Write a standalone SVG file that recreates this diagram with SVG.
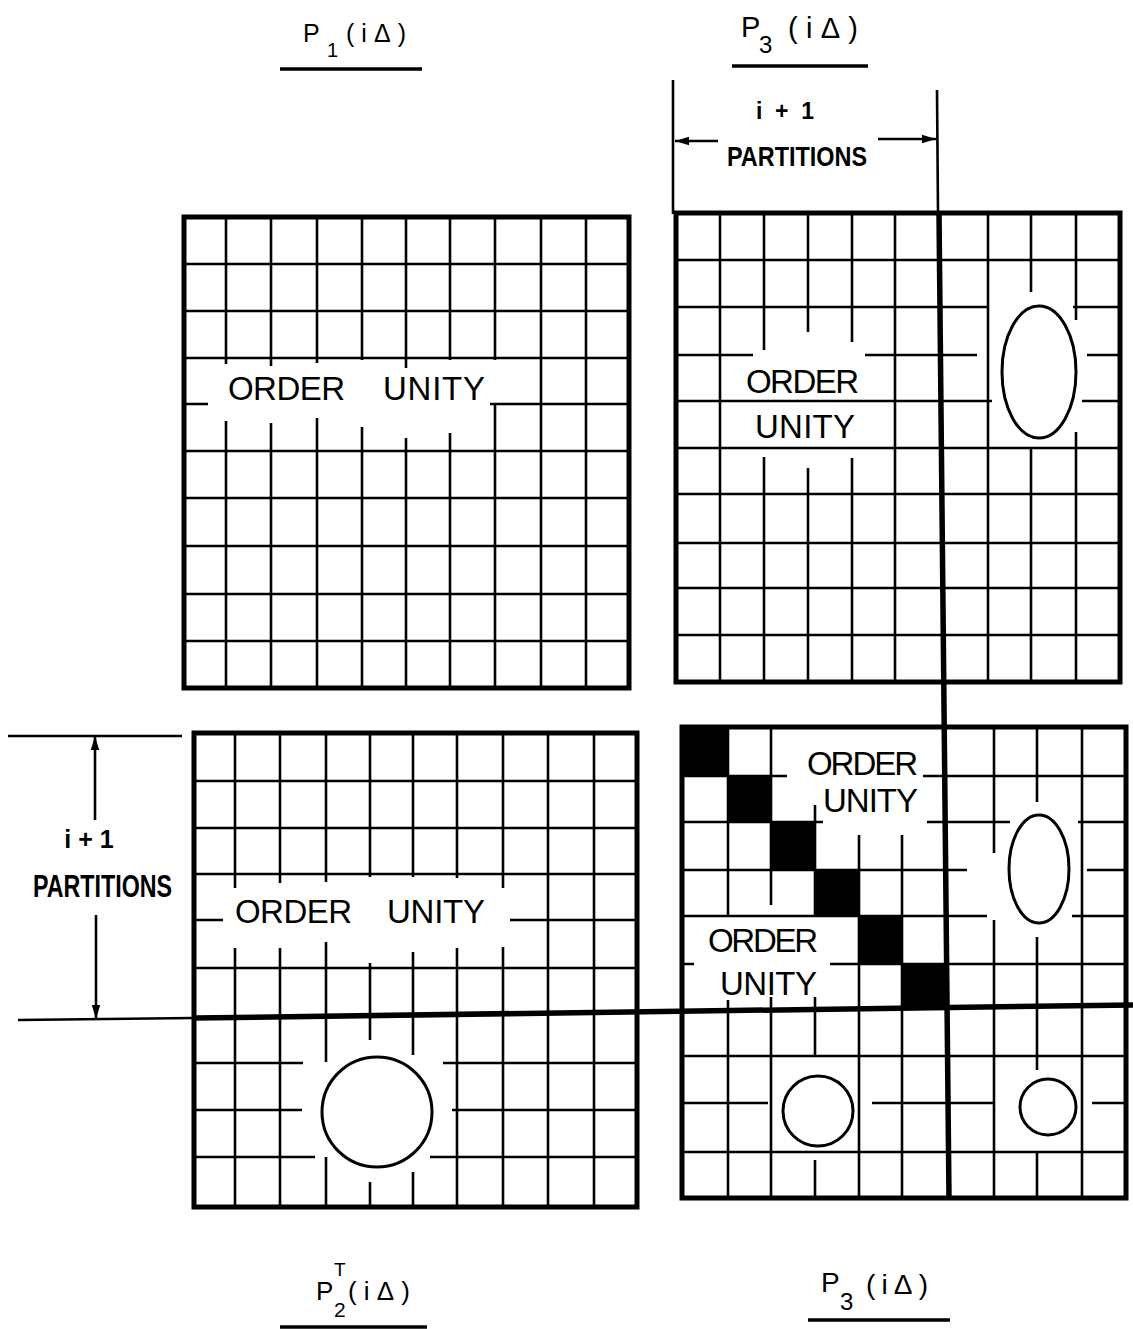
<svg xmlns="http://www.w3.org/2000/svg" width="1133" height="1329" viewBox="0 0 1133 1329">
<defs>
<style>
.border{fill:none;stroke:#000;stroke-width:5}
.grid{fill:none;stroke:#000;stroke-width:2.6}
.part{fill:none;stroke:#000;stroke-width:5.5}
.dim{fill:none;stroke:#000;stroke-width:2.6}
.shape{fill:none;stroke:#000;stroke-width:3}
.blk{fill:#000}
.lbl{font-family:"Liberation Sans",Arial,sans-serif;font-size:33px;fill:#000}
.dimtxt{font-family:"Liberation Sans",Arial,sans-serif;font-weight:bold;fill:#000}
.ttl{font-family:"Liberation Sans",Arial,sans-serif;fill:#000}
.uline{stroke:#000;stroke-width:3.5}
</style>
<marker id="arr" markerUnits="userSpaceOnUse" markerWidth="16" markerHeight="12" refX="14" refY="5" orient="auto">
<path d="M0,0.8 L14,5 L0,9.2 Z" fill="#000"/>
</marker>
</defs>
<rect x="0" y="0" width="1133" height="1329" fill="#fff"/>

<g id="matrix-p1">
<path class="grid" d="M184 264H629 M184 311H629 M184 358H629 M184 404H208 M490 404H629 M184 451H629 M184 498H629 M184 546H629 M184 594H629 M184 641H629
M226 217V364 M226 421V688 M271 217V366 M271 423V688 M317 217V363 M317 418V688 M362 217V360 M362 427V688 M406 217V368 M406 438V688 M450 217V360 M450 433V688 M495 217V360 M495 405V688 M541 217V688 M586 217V688"/>
<rect class="border" x="184" y="217" width="445" height="471"/>
<text class="lbl"><tspan x="228" y="400" textLength="117">ORDER</tspan><tspan x="383" y="400" textLength="102">UNITY</tspan></text>
</g>

<g id="matrix-p3-top">
<path class="grid" d="M676 260H1120 M676 307H988 M1073 307H1120 M676 355H753 M865 355H977 M1087 355H1120 M676 401H992 M1082 401H1120 M676 448H1120 M676 494H1120 M676 543H1120 M676 588H1120 M676 635H1120
M720 213V682 M764 213V350 M764 457V682 M808 213V332 M808 468V682 M852 213V342 M852 458V682 M895 213V682 M988 213V682 M1031 213V292 M1031 448V682 M1076 213V320 M1076 432V682"/>
<rect class="border" x="676" y="213" width="444" height="469"/>
<ellipse class="shape" cx="1039" cy="372" rx="37" ry="66"/>
<text class="lbl"><tspan x="746" y="393" textLength="113">ORDER</tspan><tspan x="755" y="438" textLength="100">UNITY</tspan></text>
</g>

<g id="matrix-p2t">
<path class="grid" d="M194 781H637 M194 828H637 M194 874H637 M194 920H223 M510 920H637 M194 968H637 M194 1063H303 M443 1063H637 M194 1110H302 M452 1110H637 M194 1157H315 M430 1157H637
M235 733V888 M235 948V1207 M280 733V883 M280 948V1207 M326 733V882 M326 942V1062 M326 1157V1207 M370 733V877 M370 963V1040 M370 1182V1207 M413 733V877 M413 952V1055 M413 1172V1207 M457 733V878 M457 948V1207 M503 733V888 M503 947V1207 M548 733V1207 M594 733V1207"/>
<rect class="border" x="194" y="733" width="443" height="474"/>
<circle class="shape" cx="377" cy="1112" r="55"/>
<text class="lbl"><tspan x="235" y="923" textLength="117">ORDER</tspan><tspan x="387" y="923" textLength="98">UNITY</tspan></text>
</g>

<g id="matrix-p3-bottom">
<rect class="blk" x="682" y="727" width="46" height="49"/>
<rect class="blk" x="728" y="776" width="43" height="46"/>
<rect class="blk" x="771" y="822" width="44" height="48"/>
<rect class="blk" x="815" y="870" width="44" height="46"/>
<rect class="blk" x="859" y="916" width="43" height="48"/>
<rect class="blk" x="902" y="964" width="45" height="45"/>
<path class="grid" d="M682 776H787 M923 776H1126 M682 822H823 M927 822H1010 M1078 822H1126 M682 870H967 M1087 870H1126 M682 916H987 M1072 916H1126 M682 964H694 M830 964H1126 M682 1056H1126 M682 1103H768 M872 1103H995 M1092 1103H1126 M682 1152H1126
M728 727V917 M728 1000V1198 M771 727V905 M771 997V1198 M815 805V917 M815 997V1056 M815 1160V1198 M859 835V1198 M902 835V1198 M994 727V853 M994 920V1198 M1037 727V802 M1037 937V1070 M1037 1152V1198 M1082 727V1198"/>
<rect class="border" x="682" y="727" width="444" height="471"/>
<ellipse class="shape" cx="1039" cy="869" rx="30" ry="54"/>
<circle class="shape" cx="818" cy="1111" r="35"/>
<circle class="shape" cx="1048" cy="1107" r="28"/>
<text class="lbl" font-size="32"><tspan x="807" y="775" textLength="111">ORDER</tspan><tspan x="823" y="812" textLength="95">UNITY</tspan></text>
<text class="lbl" font-size="32"><tspan x="708" y="952" textLength="110">ORDER</tspan><tspan x="720" y="995" textLength="97">UNITY</tspan></text>
</g>

<g id="partition-lines">
<path class="dim" d="M18 1020L194 1018"/>
<path class="part" d="M194 1018L1133 1005"/>
<path class="dim" d="M937 90L938 213"/>
<path class="part" d="M939 213L949 1198"/>
</g>

<g id="connectors">
<path class="dim" d="M673 80V214"/>
<path class="dim" d="M718 141H675" marker-end="url(#arr)"/>
<path class="dim" d="M878 139H936" marker-end="url(#arr)"/>
<path class="dim" d="M8 736H182"/>
<path class="dim" d="M95 820V736" marker-end="url(#arr)"/>
<path class="dim" d="M96 915V1019" marker-end="url(#arr)"/>
</g>

<g id="dim-labels">
<text class="dimtxt" font-size="23" x="756" y="119" textLength="58">i + 1</text>
<text class="dimtxt" font-size="28" x="727" y="166" textLength="140" lengthAdjust="spacingAndGlyphs">PARTITIONS</text>
<text class="dimtxt" font-size="25" x="89" y="848" text-anchor="middle">i + 1</text>
<text class="dimtxt" font-size="32" x="33" y="897" textLength="139" lengthAdjust="spacingAndGlyphs">PARTITIONS</text>
</g>

<g id="title-p1">
<text class="ttl" font-size="25"><tspan x="303" y="42">P</tspan><tspan x="327" y="57" font-size="20">1</tspan><tspan x="346" y="42" textLength="60">(iΔ)</tspan></text>
<line class="uline" x1="280" y1="69" x2="422" y2="69"/>
</g>
<g id="title-p3-top">
<text class="ttl" font-size="29"><tspan x="741" y="37">P</tspan><tspan x="759" y="53" font-size="24">3</tspan><tspan x="788" y="38" textLength="70">(iΔ)</tspan></text>
<line class="uline" x1="732" y1="66" x2="868" y2="66"/>
</g>
<g id="title-p2t">
<text class="ttl" font-size="26"><tspan x="316" y="1300">P</tspan><tspan x="334" y="1276" font-size="19">T</tspan><tspan x="334" y="1317" font-size="21">2</tspan><tspan x="348" y="1300" textLength="62">(iΔ)</tspan></text>
<line class="uline" x1="280" y1="1327" x2="427" y2="1327"/>
</g>
<g id="title-p3-bottom">
<text class="ttl" font-size="28"><tspan x="821" y="1292">P</tspan><tspan x="840" y="1310" font-size="24">3</tspan><tspan x="866" y="1294" textLength="62">(iΔ)</tspan></text>
<line class="uline" x1="808" y1="1320" x2="950" y2="1320"/>
</g>
</svg>
